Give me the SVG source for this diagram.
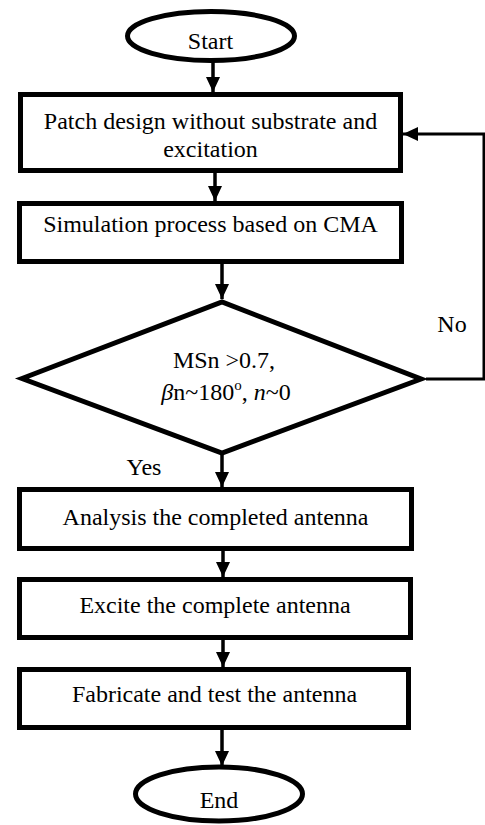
<svg xmlns="http://www.w3.org/2000/svg" width="485" height="825" viewBox="0 0 485 825">
<style>
  .shape { fill: #ffffff; stroke: #000000; stroke-width: 5; }
  .conn { fill: none; stroke: #000000; stroke-width: 3.5; }
  .fb { fill: none; stroke: #000000; stroke-width: 3; }
  text { font-family: "Liberation Serif", "Times New Roman", serif; font-size: 24px; fill: #000000; text-anchor: middle; }
</style>
<defs>
  <marker id="arrow" markerUnits="userSpaceOnUse" markerWidth="16" markerHeight="16" viewBox="0 0 16 16" refX="15" refY="8" orient="auto">
    <polygon points="0,1 15,8 0,15" fill="#000000"/>
  </marker>
</defs>
<rect width="485" height="825" fill="#ffffff"/>

<g id="connectors">
  <line class="conn" x1="213" y1="62" x2="213" y2="92" marker-end="url(#arrow)"/>
  <line class="conn" x1="215" y1="172" x2="215" y2="201" marker-end="url(#arrow)"/>
  <line class="conn" x1="222" y1="263" x2="222" y2="299" marker-end="url(#arrow)"/>
  <line class="conn" x1="222" y1="455" x2="222" y2="487" marker-end="url(#arrow)"/>
  <line class="conn" x1="223" y1="550" x2="223" y2="577" marker-end="url(#arrow)"/>
  <line class="conn" x1="223" y1="639" x2="223" y2="667" marker-end="url(#arrow)"/>
  <line class="conn" x1="222" y1="729" x2="222" y2="766" marker-end="url(#arrow)"/>
  <polyline class="fb" points="426,379 484,379 484,134 403,134" marker-end="url(#arrow)"/>
  <text x="452" y="332">No</text>
  <text x="144" y="475">Yes</text>
</g>

<g id="start">
  <ellipse class="shape" cx="211" cy="36" rx="83.5" ry="24.5"/>
  <text x="210.5" y="49">Start</text>
</g>

<g id="patch-design">
  <rect class="shape" x="20.5" y="94.5" width="380" height="76"/>
  <text x="210.5" y="129">Patch design without substrate and</text>
  <text x="210.5" y="157">excitation</text>
</g>

<g id="simulation">
  <rect class="shape" x="19.5" y="203.5" width="382" height="58"/>
  <text x="210.5" y="232">Simulation process based on CMA</text>
</g>

<g id="decision">
  <polygon class="shape" points="22,378.5 222,302 421,379 222,453"/>
  <text x="224" y="368">MSn &gt;0.7,</text>
  <text x="226" y="400"><tspan font-style="italic">β</tspan>n~180<tspan font-size="15" dy="-10">o</tspan><tspan dy="10">, </tspan><tspan font-style="italic">n</tspan>~0</text>
</g>

<g id="analysis">
  <rect class="shape" x="19.5" y="489.5" width="392" height="59"/>
  <text x="215.5" y="525">Analysis the completed antenna</text>
</g>

<g id="excite">
  <rect class="shape" x="19.5" y="579.5" width="391" height="58"/>
  <text x="215" y="613">Excite the complete antenna</text>
</g>

<g id="fabricate">
  <rect class="shape" x="19.5" y="669.5" width="389" height="58"/>
  <text x="214.5" y="702">Fabricate and test the antenna</text>
</g>

<g id="end">
  <ellipse class="shape" cx="219" cy="794" rx="83.5" ry="27"/>
  <text x="219" y="808">End</text>
</g>
</svg>
